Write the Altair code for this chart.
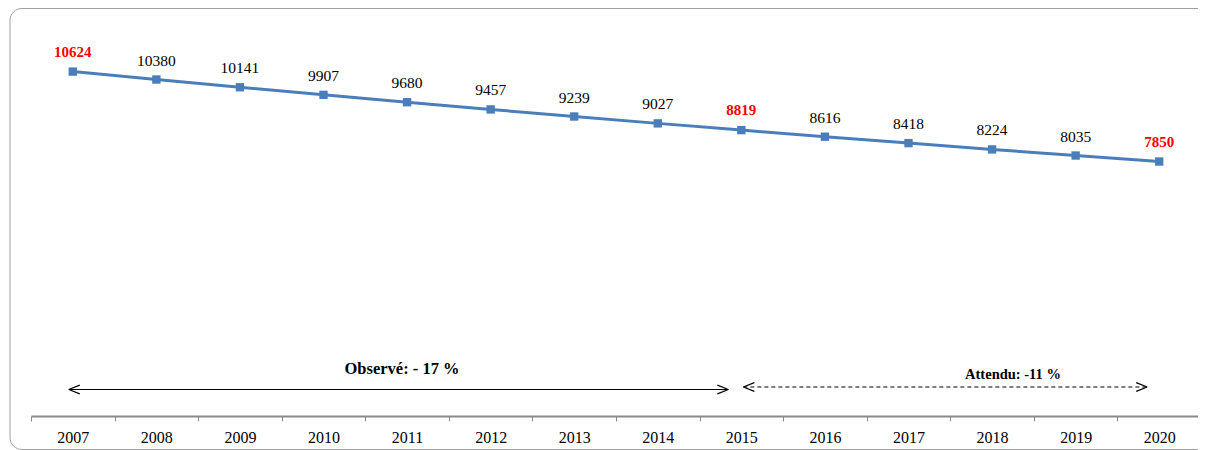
import altair as alt
import pandas as pd

years = [str(y) for y in range(2007, 2021)]
values = [10624, 10380, 10141, 9907, 9680, 9457, 9239, 9027, 8819, 8616, 8418, 8224, 8035, 7850]
highlight_years = ["2007", "2015", "2020"]

arrow_starts = ["2007", "2015"]
arrow_ends = ["2015", "2020"]
arrow_labels = ["Observé: - 17 %", "Attendu: -11 %"]

df = pd.DataFrame({"year": years, "value": values})
df["hl"] = df["year"].isin(highlight_years)

FONT = "Liberation Serif"
BLUE = "#4a7ebb"

xscale = alt.Scale(type="band", domain=years, paddingInner=0, paddingOuter=0)
yscale = alt.Scale(domain=[0, 12000])

base = alt.Chart(df).encode(
    x=alt.X("year:O", scale=xscale, title=None,
            axis=alt.Axis(labelAngle=0, labelAlign="center", labelBaseline="top",
                          tickBand="extent", labelFont=FONT,
                          labelFontSize=16, labelColor="#000000",
                          domainColor="#8a8a8a", domainWidth=2,
                          tickColor="#8a8a8a", tickSize=5, tickWidth=1,
                          labelPadding=8, grid=False)),
    y=alt.Y("value:Q", scale=yscale, axis=None),
)

line = base.mark_line(color=BLUE, strokeWidth=3)
pts = base.mark_point(shape="square", filled=True, size=70, color=BLUE, opacity=1)
lab_black = base.transform_filter("!datum.hl").mark_text(
    font=FONT, fontSize=15.5, color="#000000", dy=-14, baseline="alphabetic"
).encode(text="value:Q")
lab_red = base.transform_filter("datum.hl").mark_text(
    font=FONT, fontSize=15, fontWeight="bold", color="#ff0000", dy=-15, baseline="alphabetic"
).encode(text="value:Q")

one = pd.DataFrame({"a": [0]})
border = alt.Chart(one).mark_rect(
    fill=None, stroke="#a0a0a0", strokeWidth=1, cornerRadius=12
).encode(x=alt.value(-21), x2=alt.value(1190), y=alt.value(-18.5), y2=alt.value(422.5))

LEFT = "M0,0L1,-0.4M0,0L1,0.4"
RIGHT = "M0,0L-1,-0.4M0,0L-1,0.4"


def arrow(start, end, ypx, off_s, off_e, dash):
    d = pd.DataFrame({"s": [start], "e": [end]})
    c = alt.Chart(d)
    kw = {"strokeDash": dash} if dash else {}
    rule = c.mark_rule(color="#000000", strokeWidth=1.2, xOffset=off_s, x2Offset=off_e, **kw).encode(
        x=alt.X("s:O", scale=xscale), x2="e:O", y=alt.value(ypx))
    lh = c.mark_point(shape=LEFT, filled=False, stroke="#000000", strokeWidth=1.2, size=484,
                      opacity=1, xOffset=off_s).encode(
        x=alt.X("s:O", scale=xscale), y=alt.value(ypx))
    rh = c.mark_point(shape=RIGHT, filled=False, stroke="#000000", strokeWidth=1.2, size=484,
                      opacity=1, xOffset=off_e).encode(
        x=alt.X("e:O", scale=xscale), y=alt.value(ypx))
    return [rule, lh, rh]


arr1 = arrow(arrow_starts[0], arrow_ends[0], 362.5, -4, -13, None)
arr2 = arrow(arrow_starts[1], arrow_ends[1], 360, 2, -12, [4, 3])

t1 = alt.Chart(one).mark_text(font=FONT, fontSize=16.5, fontWeight="bold", color="#000000",
                              baseline="middle", align="center").encode(
    x=alt.value(371), y=alt.value(342), text=alt.value(arrow_labels[0]))
t2 = alt.Chart(one).mark_text(font=FONT, fontSize=14.5, fontWeight="bold", color="#000000",
                              baseline="middle", align="center").encode(
    x=alt.value(982), y=alt.value(348), text=alt.value(arrow_labels[1]))

chart = alt.layer(border, *arr1, *arr2, t1, t2, line, pts, lab_black, lab_red).properties(
    width=1170, height=389,
    padding={"left": 23, "top": 19, "right": -3, "bottom": 34},
    autosize=alt.AutoSizeParams(type="none"),
).configure_view(stroke=None)

chart.save("out.html", embed_options={"renderer": "svg", "actions": False})
